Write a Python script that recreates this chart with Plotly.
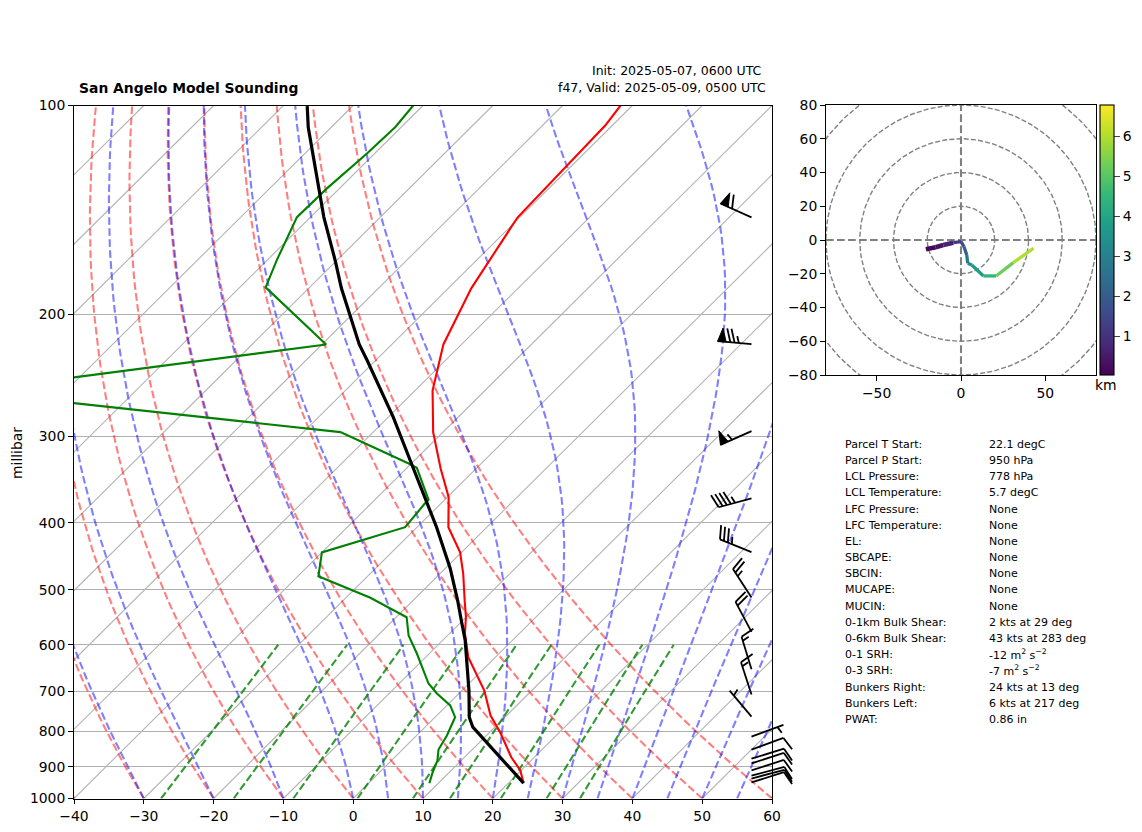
import numpy as np
import plotly.graph_objects as go
from plotly.colors import sample_colorscale

# ---------- data ----------
t_p = [100, 106.9, 145.1, 183.6, 221.2, 257.8, 296.1, 334, 367.5, 406.1, 441.4, 473.6, 518, 547.6, 578, 625.4, 698.5, 759, 802.5, 872, 911, 950.4]
t_c = [-61.7, -61.0, -60.3, -56.7, -52.6, -47.5, -41.4, -35.1, -29.8, -25.5, -20.2, -16.7, -12.6, -10.0, -7.8, -3.9, 3.2, 7.7, 11.5, 16.7, 19.9, 22.2]

td_p = [100, 107.5, 117.3, 131.7, 144.9, 167.4, 183, 221.2, 258.6, 296, 328.5, 333.3, 370.7, 375.3, 406, 441.4, 477.9, 513.3, 547.6, 581.6, 617.7, 682.5, 705.6, 734, 763.3, 811, 849.7, 881.7, 916.4, 950.4]
td_c = [-91.4, -90.85, -91.1, -91.8, -91.95, -88.6, -86.3, -69.4, -114.1, -54.7, -40.4, -38.6, -32.3, -32.3, -31.7, -40.0, -37.05, -26.5, -18.5, -15.6, -11.8, -5.8, -3.15, 0.47, 2.87, 4.33, 5.15, 6.6, 7.6, 8.7]

parcel_p = [100.2, 107.5, 144.9, 167.4, 183.6, 221.2, 233.3, 281.6, 325.3, 406, 465.6, 518, 553.5, 591.6, 698.5, 763.3, 789, 829.3, 950.4]
parcel_c = [-106.5, -103.3, -88.1, -80.2, -75.3, -64.65, -61.2, -49.3, -40.6, -27.2, -19.3, -13.6, -10.2, -6.75, 1.0, 4.9, 6.85, 11.0, 22.2]

wind_p = [145, 221, 295, 369, 441, 513, 575, 651, 708, 762, 814, 850, 876, 890, 911, 927, 936, 948]
wind_dir = [294, 275, 246, 255, 292, 327, 332, 343, 342, 320, 70, 70, 73, 72, 72, 75, 75, 72.5]
wind_kt = [60, 75, 55, 45, 35, 25, 20, 15, 15, 5, 5, 10, 10, 10, 10, 10, 10, 10]

hodo_u = [-20.8, -15, -10.5, -4.6, 0, 1.8, 3.4, 4, 6.4, 13.3, 20.8, 31, 43]
hodo_v = [-5.5, -4.3, -3, -1.6, -1, -4, -8.9, -13.8, -14.8, -21.3, -21.3, -13.4, -4.9]
hodo_km = [0.05, 0.25, 0.5, 0.9, 1.4, 1.7, 2.4, 3.1, 3.4, 4.1, 4.8, 5.7, 6.3]
hodo_rings = [20, 40, 60, 80, 100]

isotherms = list(range(-140, 70, 10))
dry_t0 = list(range(-40, 70, 10))
moist_t0 = [-40, -30, -20, -10] + list(range(0, 65, 5))
mix_ratios = [0.0004, 0.001, 0.002, 0.004, 0.007, 0.01, 0.016, 0.024, 0.032]
p_ticks = [100, 200, 300, 400, 500, 600, 700, 800, 900, 1000]
t_ticks = list(range(-40, 70, 10))

table_left = ["Parcel T Start:", "Parcel P Start:", "LCL Pressure:", "LCL Temperature:", "LFC Pressure:", "LFC Temperature:",
              "EL:", "SBCAPE:", "SBCIN:", "MUCAPE:", "MUCIN:", "0-1km Bulk Shear:", "0-6km Bulk Shear:", "0-1 SRH:",
              "0-3 SRH:", "Bunkers Right:", "Bunkers Left:", "PWAT:"]
table_right = ["22.1 degC", "950 hPa", "778 hPa", "5.7 degC", "None", "None", "None", "None", "None", "None", "None",
               "2 kts at 29 deg", "43 kts at 283 deg", "-12 m<sup>2</sup> s<sup>−2</sup>", "-7 m<sup>2</sup> s<sup>−2</sup>",
               "24 kts at 13 deg", "6 kts at 217 deg", "0.86 in"]

# ---------- layout constants ----------
W, H = 1142, 832
L, R, T, B = 74, 772, 105.5, 798.5
HL, HR, HT, HB = 826, 1096, 105, 375
SKEW = 100.0
FONT = "DejaVu Sans"


def px(v):
    return v / W


def py(v):
    return 1 - v / H


def skew(tc, p):
    return np.asarray(tc, float) + SKEW * np.log10(1000.0 / np.asarray(p, float))


fig = go.Figure()


def add(x, y, color, width, dash=None, ax="", **kw):
    fig.add_trace(go.Scatter(x=x, y=y, mode="lines", hoverinfo="skip", showlegend=False,
                             line=dict(color=color, width=width, dash=dash),
                             xaxis="x" + ax, yaxis="y" + ax, **kw))


# isotherms
for t in isotherms:
    pr = np.array([1000.0, 100.0])
    add(skew([t, t], pr), pr, "#b4b4b4", 1.1)

plev = np.logspace(3, 2, 70)
DASH = "7.7px,3.3px"

# dry adiabats
for t0 in dry_t0:
    tk = (t0 + 273.15) * (plev / 1000.0) ** 0.2857
    add(skew(tk - 273.15, plev), plev, "rgba(255,0,0,0.5)", 2.1, DASH)


# moist adiabats
def moist_rate(tk, p):
    es = 611.2 * np.exp(17.67 * (tk - 273.15) / (tk - 29.65))
    rs = 0.622 * es / (p - es)
    lv, rd, cp = 2.501e6, 287.05, 1005.7
    return (rd * tk + lv * rs) / (cp + lv * lv * rs * 0.622 / (rd * tk * tk))


for t0 in moist_t0:
    tk = t0 + 273.15
    out = [tk]
    for a, b in zip(plev[:-1], plev[1:]):
        pa, pb = a * 100, b * 100
        h = np.log(pb / pa)
        pm = np.sqrt(pa * pb)
        k1 = moist_rate(tk, pa)
        k2 = moist_rate(tk + 0.5 * h * k1, pm)
        k3 = moist_rate(tk + 0.5 * h * k2, pm)
        k4 = moist_rate(tk + h * k3, pb)
        tk = tk + h * (k1 + 2 * k2 + 2 * k3 + k4) / 6
        out.append(tk)
    add(skew(np.array(out) - 273.15, plev), plev, "rgba(0,0,255,0.5)", 2.1, DASH)

# mixing ratio lines
pmix = np.linspace(1000, 600, 20)
for w in mix_ratios:
    e = pmix * w / (0.622 + w)
    lg = np.log(e / 6.112)
    td = 243.5 * lg / (17.67 - lg)
    add(skew(td, pmix), pmix, "rgba(0,128,0,0.8)", 2.1, DASH)

# profiles
add(skew(t_c, t_p), t_p, "#ff0000", 2.1)
add(skew(td_c, td_p), td_p, "#008000", 2.1)
add(skew(parcel_c, parcel_p), parcel_p, "#000000", 3.2)

# hodograph rings and axes
theta = np.linspace(0, 2 * np.pi, 241)
for r in hodo_rings:
    add(r * np.cos(theta), r * np.sin(theta), "#808080", 1.4, "5px,2.2px", ax="2")
add([-80, 80], [0, 0], "#808080", 2.1, "7.7px,3.3px", ax="2")
add([0, 0], [-80, 80], "#808080", 2.1, "7.7px,3.3px", ax="2")

# hodograph line coloured by height
KM_MIN, KM_MAX = 0.04, 6.79
for i in range(len(hodo_u) - 1):
    frac = (hodo_km[i] + hodo_km[i + 1]) / 2
    col = sample_colorscale("Viridis", [(frac - KM_MIN) / (KM_MAX - KM_MIN)])[0]
    add(hodo_u[i:i + 2], hodo_v[i:i + 2], col, 4.6 if frac < 1.0 else 3.3, ax="2")

# barbs, built in an overlay axis that spans the page
BARB_X = 751.5
LEN = 34.0
bx, by = [], []
fx, fy = [], []
for p, d, s in zip(wind_p, wind_dir, wind_kt):
    y0 = B - (B - T) * np.log10(1000.0 / p)
    a = np.radians(d)
    ux, uy = np.sin(a), -np.cos(a)          # from base to outer end, page direction
    nx, ny = -uy, ux                        # side on which barbs are drawn
    ex, ey = BARB_X + LEN * ux, y0 + LEN * uy
    bx += [BARB_X, ex, None]
    by += [y0, ey, None]
    height, width, space = 0.4 * LEN, 0.25 * LEN, 0.125 * LEN
    rem = int(round(s / 5.0) * 5)
    nflag, rem = rem // 50, rem % 50
    nfull, rem = rem // 10, rem % 10
    half = rem >= 5
    off = 0.0
    for k in range(nflag):
        if off != 0.0:
            off -= space / 2
        qx, qy = ex + off * ux, ey + off * uy
        fx += [qx, qx + height * nx - width / 2 * ux, qx - width * ux, qx, None]
        fy += [qy, qy + height * ny - width / 2 * uy, qy - width * uy, qy, None]
        off -= width + space
    for k in range(nfull):
        qx, qy = ex + off * ux, ey + off * uy
        bx += [qx, qx + height * nx + width / 2 * ux, None]
        by += [qy, qy + height * ny + width / 2 * uy, None]
        off -= space
    if half:
        if off == 0.0:
            off -= 1.5 * space
        qx, qy = ex + off * ux, ey + off * uy
        bx += [qx, qx + height / 2 * nx + width / 4 * ux, None]
        by += [qy, qy + height / 2 * ny + width / 4 * uy, None]

add(bx, by, "#000000", 1.8, ax="3")
fig.add_trace(go.Scatter(x=fx, y=fy, mode="lines", fill="toself", fillcolor="#000000",
                         line=dict(color="#000000", width=1), hoverinfo="skip", showlegend=False,
                         xaxis="x3", yaxis="y3"))

# colourbar carrier, outside the overlay range
fig.add_trace(go.Scatter(x=[-500] * len(hodo_km), y=[-500] * len(hodo_km), mode="markers", xaxis="x3", yaxis="y3",
                         hoverinfo="skip", showlegend=False,
                         marker=dict(color=hodo_km, coloraxis="coloraxis", size=2)))

# text
ann = [
    dict(x=px(78), y=py(88), text="<b>San Angelo Model Sounding</b>", xanchor="left", font=dict(size=13.9)),
    dict(x=px(763), y=py(70.5), text="Init: 2025-05-07, 0600 UTC", xanchor="right", font=dict(size=12.5)),
    dict(x=px(767), y=py(88), text="f47, Valid: 2025-05-09, 0500 UTC", xanchor="right", font=dict(size=12.5)),
    dict(x=px(16.5), y=py(453.5), text="millibar", textangle=-90, xanchor="center", font=dict(size=13.9)),
    dict(x=px(1106), y=py(385), text="km", xanchor="center", font=dict(size=13.9)),
]
for i, (a_, b_) in enumerate(zip(table_left, table_right)):
    yy = 444.3 + i * 16.18
    ann.append(dict(x=px(844), y=py(yy), text=a_, xanchor="left", font=dict(size=11)))
    ann.append(dict(x=px(988), y=py(yy), text=b_, xanchor="left", font=dict(size=11)))
for a_ in ann:
    a_.update(xref="paper", yref="paper", showarrow=False, borderpad=0)
    a_.setdefault("yanchor", "middle")
    a_["font"]["family"] = FONT
    a_["font"]["color"] = "#000000"

axis_style = dict(showline=True, mirror=True, linecolor="#000000", linewidth=1.1, ticks="outside", ticklen=4.9,
                  tickwidth=1.1, tickcolor="#000000", zeroline=False, tickfont=dict(family=FONT, size=13.9, color="#000000"))

fig.update_layout(
    width=W, height=H, margin=dict(l=0, r=0, t=0, b=0, autoexpand=False), paper_bgcolor="white", plot_bgcolor="rgba(0,0,0,0)",
    showlegend=False, annotations=ann,
    font=dict(family=FONT, size=13.9, color="#000000"),
    xaxis=dict(domain=[px(L), px(R)], range=[-40, 60], tickvals=t_ticks, showgrid=False, anchor="y", **axis_style),
    yaxis=dict(domain=[py(B), py(T)], type="log", range=[3, 2], tickvals=p_ticks, ticktext=[str(v) for v in p_ticks],
               showgrid=True, gridcolor="#b0b0b0", gridwidth=1.1, anchor="x", **axis_style),
    xaxis2=dict(domain=[px(HL), px(HR)], range=[-80, 80], tickvals=[-50, 0, 50], showgrid=False, anchor="y2", **axis_style),
    yaxis2=dict(domain=[py(HB), py(HT)], range=[-80, 80], tickvals=list(range(-80, 81, 20)), showgrid=False, anchor="x2", **axis_style),
    xaxis3=dict(domain=[0, 1], range=[0, W], visible=False, anchor="y3", fixedrange=True),
    yaxis3=dict(domain=[0, 1], range=[H, 0], visible=False, anchor="x3", fixedrange=True),
    coloraxis=dict(colorscale="Viridis", cmin=KM_MIN, cmax=KM_MAX, colorbar=dict(
        x=px(1100), xanchor="left", xpad=0, y=py(HB), yanchor="bottom", ypad=0, len=(HB - HT) / H, lenmode="fraction",
        thickness=14, thicknessmode="pixels", outlinecolor="#000000", outlinewidth=1.1, ticks="outside", ticklen=6,
        tickwidth=1.1, tickvals=[1, 2, 3, 4, 5, 6], tickfont=dict(family=FONT, size=13.9, color="#000000"))),
)

fig.write_html("out.html", config={"displayModeBar": False}, post_script="document.body.style.margin='0';")
